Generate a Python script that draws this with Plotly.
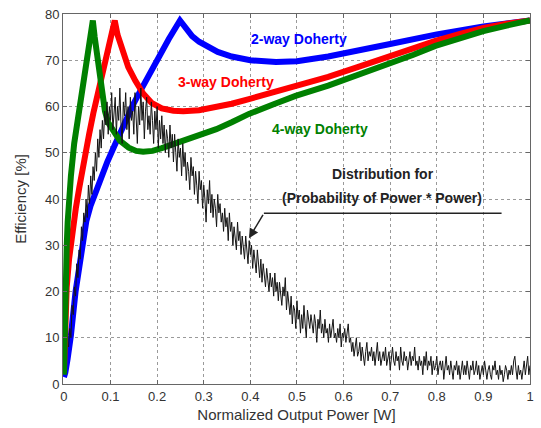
import plotly.graph_objects as go

# ---- data ----
blue_x = [0.0, 0.003, 0.008, 0.015, 0.025, 0.033, 0.04, 0.048, 0.057, 0.068, 0.079,
          0.093, 0.107, 0.121, 0.135, 0.149, 0.164, 0.18, 0.2, 0.225, 0.249,
          0.26, 0.275, 0.29, 0.307, 0.33, 0.36, 0.4, 0.455, 0.5, 0.567, 0.6,
          0.7, 0.8, 0.9, 1.0]
blue_y = [1.5, 2.5, 5.5, 10.5, 20, 26, 31, 35.2, 38.5, 41.6, 44.6,
          48, 51.2, 54.5, 57.5, 60.5, 63.4, 66.5, 70.2, 74.6, 78.6,
          77, 75.2, 74, 73, 71.8, 70.8, 70, 69.6, 69.8, 70.8, 71.4,
          73.5, 75.6, 77.3, 78.6]

red_x = [0.0, 0.001, 0.003, 0.006, 0.011, 0.018, 0.0255, 0.033, 0.04, 0.047, 0.054,
         0.063, 0.072, 0.08, 0.089, 0.099, 0.109,
         0.115, 0.125, 0.138, 0.153, 0.17, 0.188, 0.21, 0.235, 0.256, 0.29, 0.327,
         0.36, 0.397, 0.45, 0.497, 0.567, 0.63, 0.698, 0.75, 0.797, 0.85, 0.9, 0.95, 1.0]
red_y = [2.5, 8, 15, 21, 27, 33, 38, 42.5, 47, 50.5, 54,
         58.5, 62.5, 66.5, 70.6, 74.5, 78.6,
         75.5, 72, 68.5, 65.6, 62.8, 60.8, 59.6, 59.1, 59.0, 59.2, 59.8,
         60.6, 61.6, 63, 64.5, 66.4, 68.5, 70.9, 72.6, 74.2, 75.7, 77, 77.9, 78.6]

green_x = [0.0, 0.001, 0.002, 0.004, 0.006, 0.008, 0.011, 0.015, 0.022, 0.028, 0.033,
           0.04, 0.05, 0.056, 0.062,
           0.066, 0.072, 0.077, 0.082, 0.088, 0.095, 0.107, 0.12, 0.139, 0.155, 0.17,
           0.19, 0.21, 0.256, 0.3, 0.327, 0.36, 0.397, 0.45, 0.497, 0.567, 0.63,
           0.698, 0.75, 0.797, 0.85, 0.9, 0.95, 1.0]
green_y = [2, 10, 17, 25, 30, 35, 40, 45, 52, 56, 59.5,
           64, 70.6, 74.5, 78.6,
           75, 70, 65.5, 62, 59, 56.5, 54.5, 52.6, 51.1, 50.4, 50.2,
           50.4, 51, 52.6, 54.1, 55.1, 56.6, 58.4, 60.5, 62.3, 64.5, 66.8,
           69.1, 71.2, 73.1, 74.8, 76.3, 77.5, 78.6]

# distribution (probability of power * power), sampled every 0.0025 from 0.01
black_start, black_step = 0.01, 0.0025
black_y = [
    8, 12, 10, 17, 15, 21, 19, 26, 23, 29,
    27, 34, 31, 37, 35, 40, 36, 43, 39, 45,
    41, 47, 44, 50, 46, 53, 49, 55, 51, 57,
    53, 59, 56, 61, 54, 60, 57, 63, 55, 59,
    62, 54, 60, 57, 64, 56, 52, 61, 58, 63,
    55, 60, 53, 62, 57, 59, 54, 63, 58, 52,
    60, 56, 64, 57, 61, 53, 59, 62, 55, 58,
    54, 61, 57, 52, 59, 55, 60, 51, 57, 53,
    58, 52, 56, 50, 55, 53, 49, 56, 51, 54,
    48, 54, 50, 46, 53, 49, 51, 45, 52, 47,
    50, 44, 48, 46, 42, 49, 45, 47, 41, 46,
    43, 39, 46, 42, 44, 38, 43, 40, 35, 42,
    39, 44, 37, 41, 36, 40, 38, 34, 41, 37,
    39, 35, 37, 33, 38, 34, 36, 31, 37, 33,
    35, 30, 34, 32, 29, 35, 31, 33, 28, 32,
    30, 27, 32, 29, 26, 31, 28, 30, 25, 29,
    27, 24, 29, 25, 23, 27, 22, 26, 24, 21,
    25, 22, 20, 24, 21, 23, 19, 24, 20, 22,
    18, 22, 20, 17, 21, 19, 23, 16, 20, 18,
    15, 19, 13, 17, 16, 12, 18, 14, 16, 11,
    15, 12, 17, 13, 10, 16, 14, 12, 15, 13,
    11, 15, 13, 9, 14, 12, 16, 11, 13, 10,
    14, 11, 12, 9, 13, 10, 12, 14, 10, 11,
    9, 12, 10, 13, 8, 11, 10, 12, 9, 11,
    13, 9, 10, 7, 9, 6, 8, 10, 6, 7,
    9, 5, 8, 6, 4, 7, 9, 5, 7, 6,
    8, 5, 7, 4, 6, 9, 5, 7, 4, 6,
    7, 5, 8, 4, 6, 7, 3, 6, 8, 5,
    4, 7, 5, 6, 3, 8, 5, 4, 7, 5,
    6, 3, 5, 7, 4, 6, 5, 8, 4, 5,
    3, 6, 4, 5, 2, 6, 4, 7, 3, 5,
    4, 6, 2, 5, 3, 4, 6, 2, 4, 5,
    3, 5, 1, 4, 6, 3, 4, 2, 5, 3,
    1, 4, 3, 5, 2, 4, 1, 3, 5, 2,
    4, 2, 5, 3, 1, 4, 3, 5, 2, 3,
    5, 2, 4, 1, 3, 4, 2, 5, 3, 1,
    3, 4, 2, 1, 4, 3, 5, 2, 3, 1,
    4, 2, 3, 0.5, 2, 4, 3, 1, 3, 2,
    4, 2, 5, 6, 3, 1, 4, 2, 3, 1,
    3, 5, 2, 4, 6, 2, 4,
]
black_x = [black_start + i * black_step for i in range(len(black_y))]

x_ticks = [0, 0.1, 0.2, 0.3, 0.4, 0.5, 0.6, 0.7, 0.8, 0.9, 1]
x_tick_text = ["0", "0.1", "0.2", "0.3", "0.4", "0.5", "0.6", "0.7", "0.8", "0.9", "1"]
y_ticks = [0, 10, 20, 30, 40, 50, 60, 70, 80]

FONT = "Liberation Sans, Arial, sans-serif"

fig = go.Figure()
fig.add_trace(go.Scatter(x=blue_x, y=blue_y, mode="lines",
                         line=dict(color="rgb(0,0,255)", width=6), showlegend=False))
fig.add_trace(go.Scatter(x=red_x, y=red_y, mode="lines",
                         line=dict(color="rgb(255,0,0)", width=6), showlegend=False))
fig.add_trace(go.Scatter(x=green_x, y=green_y, mode="lines",
                         line=dict(color="rgb(0,128,0)", width=6), showlegend=False))
fig.add_trace(go.Scatter(x=black_x, y=black_y, mode="lines",
                         line=dict(color="rgb(20,20,20)", width=1), showlegend=False))

axis_common = dict(
    showline=True, linecolor="#666", linewidth=1, mirror="ticks",
    ticks="inside", ticklen=4, tickcolor="#666",
    showgrid=True, gridcolor="#9a9a9a", griddash="dot", gridwidth=1,
    zeroline=False, tickfont=dict(family=FONT, size=13, color="#333"),
    title_font=dict(family=FONT, size=15, color="#333"),
)

fig.update_xaxes(range=[-0.002, 1.0], tickvals=x_ticks, ticktext=x_tick_text,
                 title_text="Normalized Output Power [W]", title_standoff=6, **axis_common)
fig.update_yaxes(range=[0, 80], tickvals=y_ticks,
                 title_text="Efficiency [%]", title_standoff=14, **axis_common)

def lab(text, x, y, color, size=14):
    fig.add_annotation(text=f"<b>{text}</b>", x=x, y=y, xref="x", yref="y",
                       showarrow=False, font=dict(family=FONT, size=size, color=color))

lab("2-way Doherty", 0.505, 74.6, "rgb(0,0,255)")
lab("3-way Doherty", 0.348, 65.3, "rgb(255,0,0)")
lab("4-way Doherty", 0.55, 55.2, "rgb(0,128,0)")
lab("Distribution for", 0.684, 45.3, "#222")
lab("(Probability of Power * Power)", 0.682, 40.3, "#222")

fig.add_shape(type="line", x0=0.429, y0=36.9, x1=0.939, y1=36.9,
              line=dict(color="#222", width=1.5), xref="x", yref="y")
fig.add_annotation(text="", x=0.397, y=31.5, ax=0.429, ay=36.9,
                   xref="x", yref="y", axref="x", ayref="y",
                   showarrow=True, arrowhead=2, arrowsize=1.3, arrowwidth=1.5,
                   arrowcolor="#222")

fig.update_layout(
    width=541, height=428,
    margin=dict(l=63, r=7, t=13, b=44),
    paper_bgcolor="white", plot_bgcolor="white",
)

fig.write_html("out.html")
